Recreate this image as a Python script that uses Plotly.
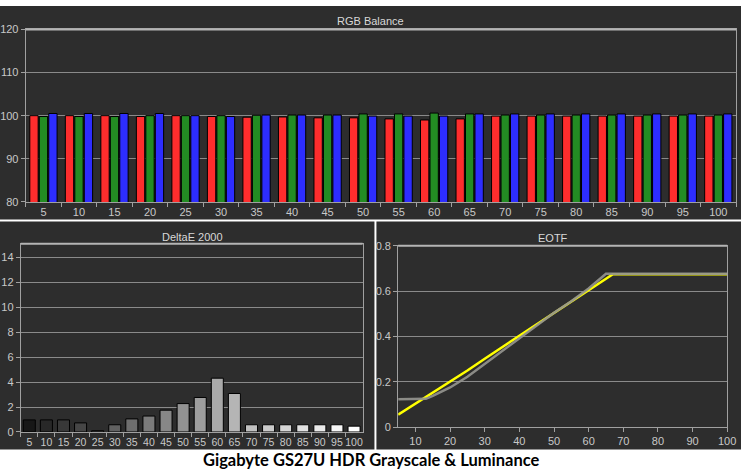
import plotly.graph_objects as go

# grayscale stimulus levels (%)
levels = [5, 10, 15, 20, 25, 30, 35, 40, 45, 50, 55, 60, 65, 70, 75, 80, 85, 90, 95, 100]
level_labels = [str(v) for v in levels]

# RGB balance per level
red_balance = [100.0, 100.0, 100.0, 99.8, 100.0, 99.8, 99.65, 99.7, 99.5, 99.5,
               99.25, 99.0, 99.25, 99.9, 99.9, 99.9, 99.9, 99.9, 99.9, 99.9]
green_balance = [99.8, 99.8, 99.8, 100.0, 100.0, 100.0, 100.1, 100.15, 100.15, 100.4,
                 100.4, 100.6, 100.4, 100.15, 100.15, 100.15, 100.15, 100.15, 100.15, 100.15]
blue_balance = [100.5, 100.5, 100.5, 100.5, 100.0, 99.8, 100.15, 100.15, 100.15, 99.9,
                99.9, 99.9, 100.4, 100.4, 100.4, 100.4, 100.4, 100.4, 100.4, 100.4]

# DeltaE 2000 per level
delta_e = [0.97, 0.97, 0.97, 0.73, 0.1, 0.58, 1.05, 1.28, 1.75, 2.28,
           2.77, 4.32, 3.09, 0.58, 0.58, 0.58, 0.58, 0.58, 0.58, 0.47]

# EOTF curves
eotf_measured_x = [5, 10, 15, 20, 25, 30, 35, 40, 45, 50, 55, 60, 65, 67, 70, 75, 80, 85, 90, 95, 100]
eotf_measured_y = [0.055, 0.103, 0.152, 0.2, 0.25, 0.302, 0.352, 0.402, 0.452, 0.502,
                   0.553, 0.603, 0.652, 0.675, 0.675, 0.675, 0.675, 0.675, 0.675, 0.675, 0.675]
eotf_target_x = [5, 10, 13, 15, 20, 25, 30, 35, 40, 45, 50, 55, 60, 65, 70, 75, 80, 85, 90, 95, 100]
eotf_target_y = [0.123, 0.123, 0.125, 0.138, 0.175, 0.222, 0.278, 0.335, 0.39, 0.447,
                 0.505, 0.555, 0.612, 0.677, 0.677, 0.677, 0.677, 0.677, 0.677, 0.677, 0.677]

W, H = 750, 476
PANEL = "#2d2d2d"
PLOT_BG = "#222222"
TICK_FONT = dict(family="Liberation Sans", size=11, color="#c8c8c8")


def px_x(x):
    return x / W


def px_y(y):
    return 1 - y / H


fig = go.Figure()

# RGB balance (top)
for name, vals, col in (
    ("R", red_balance, "rgb(255,45,45)"),
    ("G", green_balance, "rgb(35,140,35)"),
    ("B", blue_balance, "rgb(45,45,255)"),
):
    fig.add_trace(go.Bar(
        x=level_labels, y=vals, name=name, marker=dict(color=col, line=dict(color="black", width=1)),
        xaxis="x", yaxis="y", showlegend=False,
    ))

# DeltaE (bottom left), bar shade follows the grey level
gray_cols = []
for lv in levels:
    g = int(round(255 * (lv / 100) ** 0.8))
    gray_cols.append(f"rgb({g},{g},{g})")
fig.add_trace(go.Bar(
    x=level_labels, y=delta_e, marker=dict(color=gray_cols, line=dict(color="black", width=1)),
    xaxis="x2", yaxis="y2", showlegend=False,
))

# EOTF (bottom right)
fig.add_trace(go.Scatter(
    x=eotf_measured_x, y=eotf_measured_y, mode="lines",
    line=dict(color="#ffff00", width=2.5), xaxis="x3", yaxis="y3", showlegend=False,
))
fig.add_trace(go.Scatter(
    x=eotf_target_x, y=eotf_target_y, mode="lines",
    line=dict(color="rgba(148,148,142,0.92)", width=2.5), xaxis="x3", yaxis="y3", showlegend=False,
))

axis_common = dict(
    showline=True, mirror=True, linecolor="#a0a0a0", linewidth=1,
    ticks="outside", ticklen=4, tickcolor="#a0a0a0", tickfont=TICK_FONT,
    zeroline=False, fixedrange=True,
)

fig.update_layout(
    width=W, height=H,
    margin=dict(l=0, r=0, t=0, b=0),
    paper_bgcolor="white",
    plot_bgcolor=PLOT_BG,
    barmode="group",
    bargap=0.2,
    bargroupgap=0.12,
    hovermode=False,
    xaxis=dict(axis_common, domain=[px_x(26), px_x(745)], anchor="y", showgrid=False,
               type="category", tickson="boundaries", tickangle=0),
    yaxis=dict(axis_common, domain=[px_y(201), px_y(24)], anchor="x", range=[80, 120],
               tickvals=[80, 90, 100, 110, 120], showgrid=True, gridcolor="#8a8a8a", gridwidth=1),
    xaxis2=dict(axis_common, domain=[px_x(21), px_x(367)], anchor="y2", showgrid=False,
                type="category", tickson="boundaries", tickangle=0,
                tickfont=dict(TICK_FONT, size=10.5)),
    yaxis2=dict(axis_common, domain=[px_y(437), px_y(244)], anchor="x2", range=[0, 15.1],
                tickvals=[0, 2, 4, 6, 8, 10, 12, 14], showgrid=True, gridcolor="#8a8a8a", gridwidth=1),
    xaxis3=dict(axis_common, domain=[px_x(403), px_x(736)], anchor="y3", showgrid=False,
                range=[5, 100], tickvals=[10, 20, 30, 40, 50, 60, 70, 80, 90, 100], tickangle=0),
    yaxis3=dict(axis_common, domain=[px_y(432), px_y(246)], anchor="x3", range=[0, 0.8],
                tickvals=[0, 0.2, 0.4, 0.6, 0.8], showgrid=True, gridcolor="#8a8a8a", gridwidth=1),
)

# dark panels behind each chart
panels = [(0, 0, 750, 219), (0, 221, 379, 455), (381, 221, 750, 455)]
for x0, y0, x1, y1 in panels:
    fig.add_shape(type="rect", xref="paper", yref="paper",
                  x0=px_x(x0), x1=px_x(x1), y0=px_y(y1), y1=px_y(y0),
                  fillcolor=PANEL, line=dict(width=0), layer="below")

# brighter top border on each plot frame
for x0, x1, y in ((26, 745, 24), (21, 367, 244), (403, 736, 246)):
    fig.add_shape(type="line", xref="paper", yref="paper",
                  x0=px_x(x0), x1=px_x(x1), y0=px_y(y), y1=px_y(y),
                  line=dict(color="#b4b4b4", width=2))

titles = [("RGB Balance", 375, 15), ("DeltaE 2000", 195, 237), ("EOTF", 560, 238)]
for text, x, y in titles:
    fig.add_annotation(text=text, xref="paper", yref="paper", x=px_x(x), y=px_y(y),
                       showarrow=False, xanchor="center", yanchor="middle",
                       font=dict(family="Liberation Sans", size=11, color="#d8d8d8"))

fig.add_annotation(text="<b>Gigabyte GS27U HDR Grayscale &amp; Luminance</b>", xref="paper", yref="paper",
                   x=px_x(376), y=px_y(466), showarrow=False, xanchor="center", yanchor="middle",
                   font=dict(family="Lato", size=16.5, color="black"))

# page body has a default 8px margin (and scrollbars follow); drop both
page_fix = (
    "document.body.style.margin='0';"
    "document.body.style.overflow='hidden';"
    "document.documentElement.style.overflow='hidden';"
)
fig.write_html("out.html", config={"displayModeBar": False}, post_script=page_fix)
